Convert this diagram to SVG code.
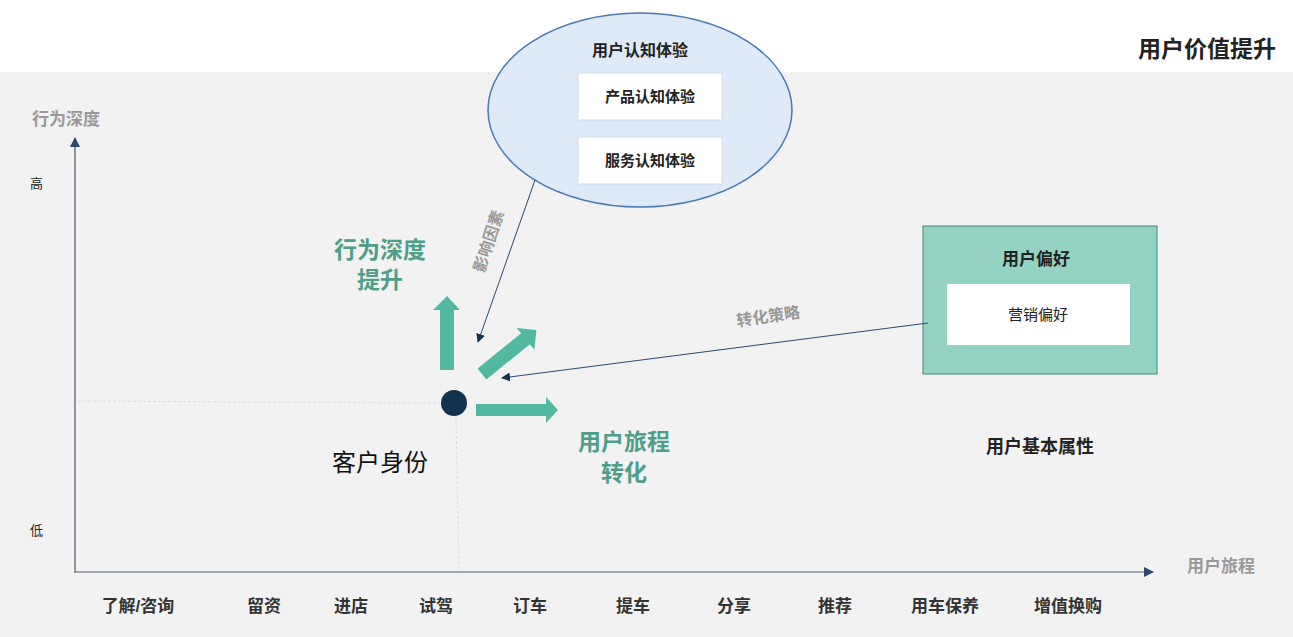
<svg xmlns="http://www.w3.org/2000/svg" width="1293" height="637" viewBox="0 0 1293 637">
<defs>
<style>
text{font-family:"Liberation Sans","Noto Sans CJK SC",sans-serif;}
.b{font-weight:bold}
.ax{font-size:17px;fill:#999;font-weight:bold}
.tick{font-size:17px;font-weight:bold;fill:#333;text-anchor:middle}
.g{fill:#4e9e89;font-size:23px;font-weight:bold;text-anchor:middle}
.arr{fill:#52b9a0}
.cn{stroke:#2c4a6a;stroke-width:1;fill:none;marker-end:url(#m)}
</style>
<marker id="m" viewBox="0 0 10 10" refX="9" refY="5" markerWidth="9" markerHeight="9" orient="auto" markerUnits="userSpaceOnUse"><path d="M0,0L10,5L0,10z" fill="#13324f"/></marker>
<marker id="ma" viewBox="0 0 10 10" refX="9" refY="5" markerWidth="10" markerHeight="10" orient="auto" markerUnits="userSpaceOnUse"><path d="M0,0L10,5L0,10z" fill="#2c4a6a"/></marker>
</defs>
<rect width="1293" height="637" fill="#fff"/>
<rect x="0" y="72" width="1293" height="565" fill="#f2f2f2"/>
<text x="1276" y="57" text-anchor="end" class="b" font-size="23" fill="#222">用户价值提升</text>
<g id="axes">
<line x1="78" y1="401" x2="440" y2="403" stroke="#ddd" stroke-dasharray="3,2"/>
<line x1="456" y1="416" x2="459" y2="572" stroke="#ddd" stroke-dasharray="3,2"/>
<line x1="75" y1="573" x2="75" y2="138" stroke="#4a5a6a" stroke-width="1.2" marker-end="url(#ma)"/>
<line x1="75" y1="572" x2="1153" y2="572" stroke="#4a5a6a" stroke-width="1.2" marker-end="url(#ma)"/>
<text x="32" y="125" class="ax" font-size="19">行为深度</text>
<text x="1187" y="572" class="ax">用户旅程</text>
<text x="30" y="188" font-size="13" fill="#222">高</text>
<text x="30" y="535" font-size="13" fill="#222">低</text>
<text x="138" y="612" class="tick">了解/咨询</text>
<text x="264" y="612" class="tick">留资</text>
<text x="351" y="612" class="tick">进店</text>
<text x="436" y="612" class="tick">试驾</text>
<text x="530" y="612" class="tick">订车</text>
<text x="633" y="612" class="tick">提车</text>
<text x="734" y="612" class="tick">分享</text>
<text x="835" y="612" class="tick">推荐</text>
<text x="945" y="612" class="tick">用车保养</text>
<text x="1068" y="612" class="tick">增值换购</text>
</g>
<g id="cognition">
<ellipse cx="640" cy="110" rx="152" ry="97" fill="#deeaf7" stroke="#4a7ab5" stroke-width="1.5"/>
<text x="640" y="56" text-anchor="middle" class="b" font-size="16" fill="#222">用户认知体验</text>
<rect x="578" y="73" width="144" height="47" fill="#fff" stroke="#d0dbe8"/>
<text x="650" y="102" text-anchor="middle" class="b" font-size="15" fill="#222">产品认知体验</text>
<rect x="578" y="137" width="144" height="47" fill="#fff" stroke="#d0dbe8"/>
<text x="650" y="166" text-anchor="middle" class="b" font-size="15" fill="#222">服务认知体验</text>
</g>
<g id="preference">
<rect x="923" y="226" width="234" height="148" fill="#94d3c3" stroke="#3f8a78"/>
<text x="1036" y="265" text-anchor="middle" class="b" font-size="17" fill="#222">用户偏好</text>
<rect x="947" y="284" width="183" height="61" fill="#fff"/>
<text x="1038" y="320" text-anchor="middle" font-size="15" fill="#222">营销偏好</text>
</g>
<g id="center">
<circle cx="454" cy="403" r="13" fill="#13324f"/>
<text x="380" y="471" text-anchor="middle" font-size="24" fill="#111">客户身份</text>
<polygon class="arr" points="440,370 454,370 454,310 460,310 447,296 433,310 440,310"/>
<polygon class="arr" points="476,404 546,404 546,397 558,410 546,423 546,416 476,416"/>
<polygon class="arr" transform="translate(482,374) rotate(-39)" points="0,-7 56,-7 56,-14 70,0 56,14 56,7 0,7"/>
<text x="380" y="258" class="g">行为深度</text>
<text x="380" y="288" class="g">提升</text>
<text x="624" y="450" class="g">用户旅程</text>
<text x="624" y="481" class="g">转化</text>
<text x="1040" y="453" text-anchor="middle" class="b" font-size="18" fill="#222">用户基本属性</text>
</g>
<g id="connectors">
<line class="cn" x1="535" y1="180" x2="478" y2="342"/>
<line class="cn" x1="928" y1="323" x2="502" y2="378"/>
<text transform="translate(494,243) rotate(-72)" text-anchor="middle" class="b" font-size="16" fill="#999">影响因素</text>
<text transform="translate(769,322) rotate(-8)" text-anchor="middle" class="b" font-size="16" fill="#999">转化策略</text>
</g>
</svg>
